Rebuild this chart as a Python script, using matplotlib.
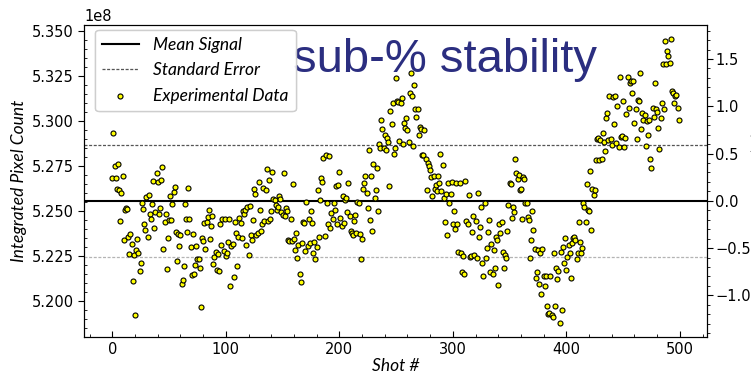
import numpy as np
import matplotlib
matplotlib.use("Agg")
import matplotlib.pyplot as plt
from matplotlib.ticker import MultipleLocator, ScalarFormatter

# ===================================================================
# ============================== Data ===============================
# ===================================================================
# deviation of every shot from the mean signal, in percent, 50 shots per block
dev_000 = [0.24, 0.72, 0.37, 0.24, 0.13, 0.39, 0.12, -0.21, 0.08, 0.26,
           -0.41, -0.10, -0.08, -0.09, -0.38, -0.56, -0.35, -0.46, -0.85, -0.57,
           -1.21, -0.52, -0.40, -0.55, -0.74, -0.66, -0.02, -0.09, -0.25, -0.31,
           0.04, -0.38, 0.06, -0.14, -0.19, -0.03, 0.21, -0.29, -0.12, 0.29,
           0.20, -0.14, -0.08, 0.22, 0.36, -0.51, -0.22, -0.14, -0.72, -0.39]
dev_050 = [-0.20, 0.05, -0.20, -0.03, 0.09, 0.15, -0.33, -0.64, -0.35, -0.48,
           -0.36, -0.88, -0.84, -0.69, -0.03, -0.19, -0.33, 0.14, -0.19, -0.49,
           -0.78, -0.35, -0.77, -0.68, -0.48, -0.61, -0.61, -0.71, -1.12, -0.39,
           -0.42, -0.23, -0.51, -0.22, -0.17, -0.10, -0.40, -0.27, -0.16, -0.67,
           -0.59, -0.54, -0.73, -0.56, -0.74, -0.24, -0.47, -0.19, -0.53, -0.19]
dev_100 = [-0.58, -0.55, -0.44, -0.19, -0.90, -0.48, -0.46, -0.81, -0.22, -0.34,
           -0.69, -0.38, -0.18, -0.23, -0.39, -0.11, -0.14, -0.10, -0.47, -0.07,
           -0.57, -0.05, -0.36, -0.41, -0.20, 0.13, 0.07, -0.36, -0.34, 0.20,
           -0.10, -0.32, -0.24, 0.14, -0.21, 0.11, 0.34, -0.21, 0.22, -0.19,
           -0.11, 0.31, 0.02, 0.01, -0.04, -0.10, -0.07, 0.05, 0.02, -0.12]
dev_150 = [-0.15, 0.29, -0.16, -0.08, -0.11, -0.41, -0.42, -0.19, -0.42, 0.18,
           -0.40, -0.52, -0.34, -0.60, -0.47, -0.77, -0.86, -0.45, -0.22, -0.23,
           -0.53, -0.01, -0.48, -0.19, -0.45, -0.11, -0.23, -0.55, -0.43, -0.62,
           -0.49, 0.12, -0.38, 0.01, 0.24, 0.20, 0.45, -0.37, 0.48, -0.02,
           -0.25, 0.47, -0.29, -0.13, -0.19, -0.02, -0.10, 0.16, -0.24, 0.17]
dev_200 = [0.31, -0.18, -0.27, 0.05, -0.23, 0.01, 0.03, -0.12, 0.19, -0.16,
           -0.32, -0.34, -0.36, -0.21, -0.15, -0.34, -0.01, -0.02, -0.35, -0.61,
           -0.40, 0.13, 0.19, 0.26, 0.08, -0.08, 0.54, -0.20, 0.26, -0.32,
           0.39, 0.03, 0.11, 0.35, -0.11, 0.60, 0.56, 0.85, 0.76, 0.56,
           0.70, 0.54, 0.66, 0.62, 0.16, 0.95, 0.81, 1.03, 0.50, 0.56]
dev_250 = [1.30, 1.06, 1.05, 0.63, 1.04, 1.09, 0.60, 0.82, 0.77, 0.88,
           0.75, 0.62, 1.14, 1.35, 1.11, 0.58, 1.23, 0.97, 0.89, 0.97,
           0.70, 0.78, 0.76, 0.48, 0.49, 0.75, 0.44, 0.12, 0.40, 0.37,
           0.33, 0.25, 0.05, 0.26, 0.13, 0.17, 0.10, 0.26, 0.19, 0.50,
           0.10, 0.38, 0.03, -0.22, 0.07, -0.36, 0.19, -0.02, 0.07, 0.20]
dev_300 = [-0.25, -0.11, -0.30, 0.19, -0.24, -0.54, 0.19, -0.55, -0.75, -0.58,
           -0.77, 0.21, -0.21, -0.25, 0.06, -0.59, -0.58, -0.33, -0.16, -0.57,
           -0.21, -0.60, 0.08, -0.38, -0.28, -0.07, -0.66, -0.80, -0.02, -0.60,
           -0.50, -0.33, -0.20, -0.75, -0.46, -0.77, -0.52, -0.71, -0.38, -0.41,
           -0.89, -0.24, -0.34, -0.22, -0.54, -0.71, -0.57, -0.60, -0.32, -0.04]
dev_350 = [0.19, 0.18, -0.18, -0.06, -0.12, 0.44, 0.29, 0.23, 0.27, 0.12,
           0.13, -0.19, 0.25, 0.23, -0.02, -0.02, -0.17, -0.20, -0.60, -0.41,
           -0.11, -0.31, -0.51, -0.82, -0.75, -0.52, -0.88, -0.55, -0.98, -0.51,
           -0.80, -0.90, -0.80, -1.11, -1.20, -1.19, -0.79, -1.21, -1.23, -0.55,
           -1.11, -0.71, -0.83, -0.74, -1.29, -0.54, -1.15, -0.49, -0.66, -0.39]
dev_400 = [-0.73, -0.59, -0.47, -0.55, -0.82, -0.45, -0.39, -0.38, -0.41, -0.62,
           -0.55, -0.22, -0.44, -0.55, -0.50, -0.02, -0.06, -0.22, 0.18, -0.10,
           -0.11, 0.32, -0.31, 0.13, 0.06, 0.11, 0.43, 0.65, 0.67, 0.43,
           0.64, 0.44, 0.72, 0.62, 0.53, 0.88, 0.93, 0.64, 1.11, 0.65,
           0.59, 1.10, 0.81, 1.11, 0.61, 1.00, 0.57, 1.31, 0.68, 0.69]
dev_450 = [1.06, 0.57, 0.67, 0.92, 1.31, 0.98, 1.25, 1.27, 1.14, 1.27,
           0.82, 0.97, 0.65, 1.07, 1.06, 1.35, 0.76, 0.93, 0.86, 0.91,
           0.58, 0.84, 0.70, 0.86, 0.44, 0.35, 0.98, 0.89, 1.25, 0.97,
           0.94, 0.77, 0.55, 0.88, 1.04, 1.45, 0.97, 1.69, 1.45, 1.58,
           1.53, 1.46, 1.71, 1.16, 1.14, 1.03, 1.11, 1.12, 0.98, 0.86]

mean_signal = 5.2558e8      # integrated pixel count
std_error_pct = 0.59        # +/- band, percent of mean

deviation = np.array(dev_000 + dev_050 + dev_100 + dev_150 + dev_200 +
                     dev_250 + dev_300 + dev_350 + dev_400 + dev_450)
shots = np.arange(len(deviation))
counts = mean_signal * (1 + deviation / 100)
std_error = mean_signal * std_error_pct / 100

# ===================================================================
# ============================== Plot ===============================
# ===================================================================
label_font = dict(family="Lato", style="italic", size=12.5)

fig = plt.figure(figsize=(7.51, 3.75), dpi=100)
ax = fig.add_axes([84 / 751, 38 / 375, 623 / 751, 312 / 375])

ax.axhline(mean_signal, color="black", lw=1.5, label="Mean Signal", zorder=2)
ax.axhline(mean_signal + std_error, color="#555555", lw=0.9,
           ls=(0, (2.4, 1.3)), label="Standard Error", zorder=2)
ax.axhline(mean_signal - std_error, color="#b4b4b4", lw=0.9,
           ls=(0, (2.4, 1.3)), zorder=2)
ax.scatter(shots, counts, s=13, c="#ffff00", edgecolors="black",
           linewidths=0.8, label="Experimental Data", zorder=3)

# === axis formatting
ax.xaxis.set_major_locator(MultipleLocator(100))
ax.xaxis.set_minor_locator(MultipleLocator(20))
ax.yaxis.set_major_locator(MultipleLocator(0.025e8))
ax.yaxis.set_minor_locator(MultipleLocator(0.005e8))
fmt = ScalarFormatter(useOffset=False)
fmt.set_scientific(True)
ax.yaxis.set_major_formatter(fmt)
ax.tick_params(axis="x", which="major", direction="in", length=4, labelsize=10.5)
ax.tick_params(axis="x", which="minor", direction="in", length=2)
ax.tick_params(axis="y", which="major", direction="out", length=4, labelsize=10.5)
ax.tick_params(axis="y", which="minor", direction="in", length=2)
ax.yaxis.get_offset_text().set_fontsize(10.5)

ax.set_xlabel("Shot #", fontdict=label_font, labelpad=1)
ax.set_ylabel("Integrated Pixel Count", fontdict=label_font, labelpad=3)

# === right axis in percent of the mean
ax2 = ax.twinx()
lo, hi = ax.get_ylim()
ax2.set_ylim((lo / mean_signal - 1) * 100, (hi / mean_signal - 1) * 100)
ax2.yaxis.set_major_locator(MultipleLocator(0.5))
ax2.yaxis.set_minor_locator(MultipleLocator(0.1))
ax2.tick_params(axis="y", which="major", direction="out", length=4,
                pad=2, labelsize=10.5)
ax2.tick_params(axis="y", which="minor", direction="out", length=2)
ax2.set_ylabel("Deviation (%)", fontdict=label_font, labelpad=1)

# === legend and headline
leg = ax.legend(loc="upper left", bbox_to_anchor=(0.018, 0.984), borderaxespad=0,
                prop=dict(family="Lato", style="italic", size=12.5),
                handlelength=2.1, handletextpad=0.85, labelspacing=0.55,
                frameon=True, fancybox=True, edgecolor="#cccccc", framealpha=0.9)
ax.add_artist(leg)
ax.set_zorder(ax2.get_zorder() + 1)
ax.patch.set_visible(False)

ax.text(0.335, 0.849, "sub-% stability", transform=ax.transAxes,
        family="Liberation Sans", fontsize=34, color="#2b2e80",
        va="baseline", ha="left", zorder=5)

fig.savefig("out.png", dpi=100)
